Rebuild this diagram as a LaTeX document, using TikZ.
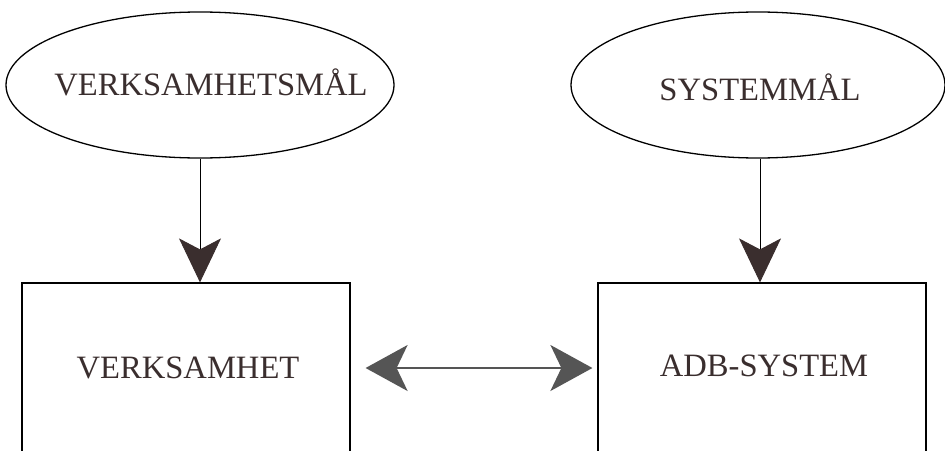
\documentclass[tikz,border=0pt]{standalone}
\usepackage{fontspec}
\setmainfont{Liberation Serif}
\usetikzlibrary{shapes.geometric,arrows.meta}
\definecolor{ink}{HTML}{3A2E2E}
\definecolor{grayhead}{HTML}{555555}
\tikzset{
  goal/.style={ellipse, draw=black, line width=1.3pt, inner sep=0pt},
  label/.style={text=ink, font=\fontsize{32.6}{36}\selectfont, inner sep=0pt},
  block/.style={rectangle, draw=black, line width=1.2pt, inner sep=0pt,
    minimum width=328pt, minimum height=190pt},
  downarrow/.style={draw=black, line width=0.9pt,
    -{Stealth[length=44pt, width=42pt, inset=11pt, color=ink]}},
  bothway/.style={draw=grayhead, line width=1.8pt,
    {Stealth[length=42pt, width=46pt, inset=11pt]}-{Stealth[length=42pt, width=46pt, inset=11pt]}},
}
\begin{document}
\begin{tikzpicture}[x=1pt, y=1pt]
\useasboundingbox[fill=white] (0,0) rectangle (945,-450);
\node[goal, minimum width=388pt, minimum height=146pt] (vmal) at (200,-85) {};
\node[label] (vmaltext) at (211,-82) {VERKSAMHETSMÅL};
\node[goal, minimum width=374pt, minimum height=146pt] (smal) at (758,-85) {};
\node[label] (smaltext) at (760,-87) {SYSTEMMÅL};
\node[block] (verk) at (186,-378) {};
\node[label] (verktext) at (188,-368) {VERKSAMHET};
\node[block] (adb) at (762,-378) {};
\node[label] (adbtext) at (764,-366) {ADB-SYSTEM};
\draw[downarrow] (vmal.south) -- (vmal.south |- verk.north);
\draw[downarrow] ([xshift=2pt]smal.south) -- ([xshift=2pt]smal.south |- adb.north);
\draw[bothway, shorten <=15pt, shorten >=5pt] (verk.east |- verktext) -- (adb.west |- verktext);
\end{tikzpicture}
\end{document}
